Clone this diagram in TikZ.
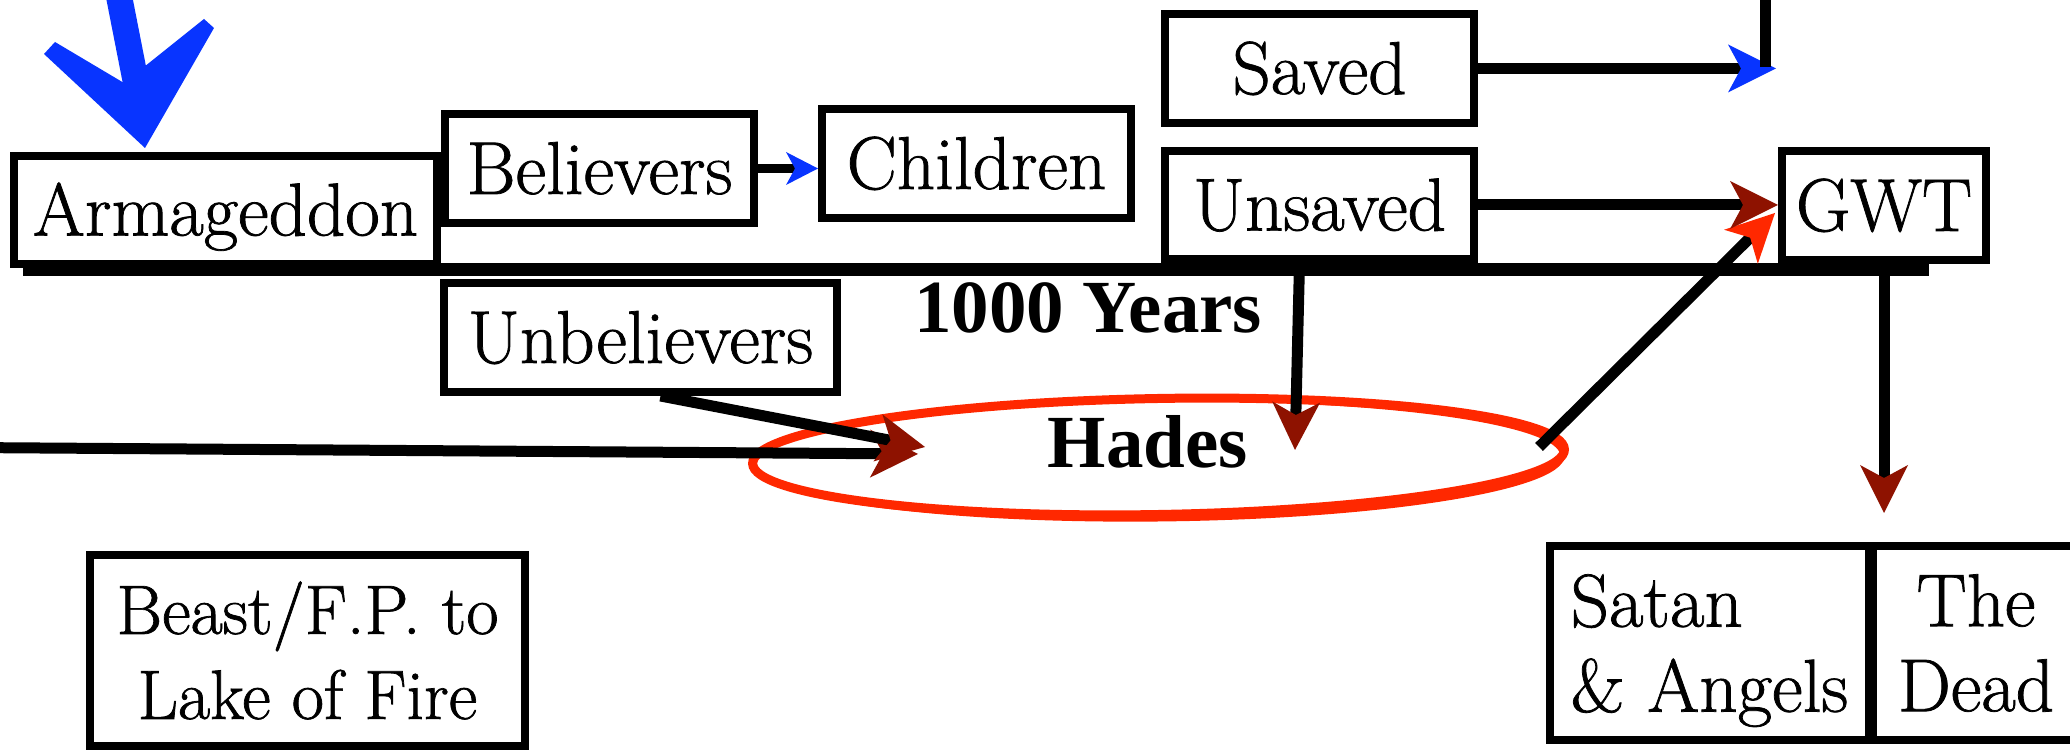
\documentclass[tikz,border=0pt]{standalone}
\usepackage{fontspec}
\newfontfamily\boldserif{Liberation Serif}
\newfontfamily\boxserif{Latin Modern Roman}[FakeBold=1]
\usetikzlibrary{arrows.meta,shapes.geometric}
\definecolor{inkblue}{RGB}{8,52,255}
\definecolor{darkred}{RGB}{142,18,0}
\definecolor{hotred}{RGB}{255,40,0}
\begin{document}
\begin{tikzpicture}[x=1pt,y=1pt,
  box/.style={draw=black, line width=8pt, fill=white, inner sep=0pt,
    font=\boxserif\fontsize{75pt}{85pt}\selectfont},
  one/.style={text height=51pt, text depth=0pt},
  boldlbl/.style={inner sep=0pt, font=\boldserif\fontsize{75pt}{85pt}\selectfont\bfseries,
    text height=50pt, text depth=0pt},
  conn/.style={line width=11pt, line cap=butt},
  bigred/.style={-{Stealth[length=48pt,width=48pt,inset=13pt,line width=0pt,color=darkred]}},
  bigblue/.style={-{Stealth[length=48pt,width=48pt,inset=13pt,line width=0pt,color=inkblue]}},
  hotarrow/.style={-{Stealth[length=48pt,width=48pt,inset=13pt,line width=0pt,color=hotred]}},
  smallblue/.style={-{Stealth[length=32pt,width=33pt,inset=9pt,line width=0pt,color=inkblue]}}
]
\useasboundingbox (0,0) rectangle (2070,751);
\fill[white] (0,0) rectangle (2070,751);
\clip (0,0) rectangle (2070,751);

% timeline
\coordinate (tlstart) at (23,481.5);
\coordinate (tlend) at (1929,481.5);
\draw[line width=13pt] (tlstart) -- (tlend);

% boxes
\node[box,one,minimum width=423pt,minimum height=108pt] (arm) at (225.5,541) {Armageddon};
\node[box,one,minimum width=309pt,minimum height=109pt] (bel) at (599.5,582.5) {Believers};
\node[box,one,minimum width=309pt,minimum height=109pt] (chi) at (976.5,587.5) {Children};
\node[box,one,minimum width=309pt,minimum height=109pt] (sav) at (1319.5,682.5) {Saved};
\node[box,one,minimum width=309pt,minimum height=108pt] (uns) at (1319.5,546) {Unsaved};
\node[box,one,minimum width=204pt,minimum height=109pt] (gwt) at (1884,545.5) {GWT};
\node[box,one,minimum width=393pt,minimum height=109pt] (unb) at (640.5,413.5) {Unbelievers};
\node[box,align=center,minimum width=435pt,minimum height=191pt,
  font=\boxserif\fontsize{70pt}{85pt}\selectfont] (beast) at (307.5,100.5) {Beast/F.P. to\\Lake of Fire};
\node[box,align=left,minimum width=319pt,minimum height=194pt] (satan) at (1709.5,108) {Satan\\\raisebox{0pt}[\height][0pt]{\& Angels}};
\node[box,align=center,minimum width=206pt,minimum height=194pt] (dead) at (1976,108) {The\\Dead};

% labels
\node[boldlbl] (years) at (1088,443) {1000 Years};

% Hades ring (sketchy double stroke)
\node[ellipse, draw=hotred, line width=9pt, minimum width=812pt, minimum height=116pt,
  inner sep=0pt, rotate=1] (hades) at (1158.5,294.5) {};
\draw[hotred, line width=5pt, rotate around={0.6:(1158.5,294.5)}]
  (1158.5,292) ellipse [x radius=404pt, y radius=60pt];
\node[boldlbl] (hadeslbl) at (1148,308) {Hades};

% connectors
\coordinate (leftin) at (-20,303.4);
\coordinate (hadesA) at (918,297);
\draw[conn,bigred] (leftin) -- (hadesA);

\coordinate (unbout) at ([xshift=20pt]unb.south);
\coordinate (hadesB) at (925,304);
\draw[conn,bigred] (unbout) -- (hadesB);

\coordinate (unsout) at ([xshift=-20pt]uns.south);
\coordinate (hadesC) at (1295,301);
\draw[conn,bigred] (unsout) -- (hadesC);

\coordinate (hadesout) at (1539,304);
\coordinate (gwtin) at ([xshift=-3pt,yshift=-7.5pt]gwt.west);
\draw[conn,hotarrow] (hadesout) -- (gwtin);

\draw[conn,bigred] (uns.east) -- (uns.east -| gwt.west);

\coordinate (savtgt) at (1776,681);
\draw[conn,bigblue] (sav.east) -- (sav.east -| savtgt);
\coordinate (topin) at (1765,770);
\coordinate (topend) at (1765,684);
\draw[conn] (topin) -- (topend);

\coordinate (deadtop) at (1884,238);
\draw[conn,bigred] (gwt.south) -- (deadtop);

\draw[line width=9pt,smallblue] (bel.east) -- (bel.east -| chi.west);

% blue hand-drawn arrow into Armageddon
\coordinate (bluestart) at (116,770);
\coordinate (bluetip) at ([xshift=-80.5pt,yshift=4pt]arm.north);
\draw[inkblue, line width=26pt] (bluestart) -- ([xshift=-8pt,yshift=60pt]bluetip);
\fill[inkblue] (bluetip) -- (44,697) -- (55,709) -- (124,668) -- (204,732) -- (214,723) -- cycle;
\end{tikzpicture}
\end{document}
